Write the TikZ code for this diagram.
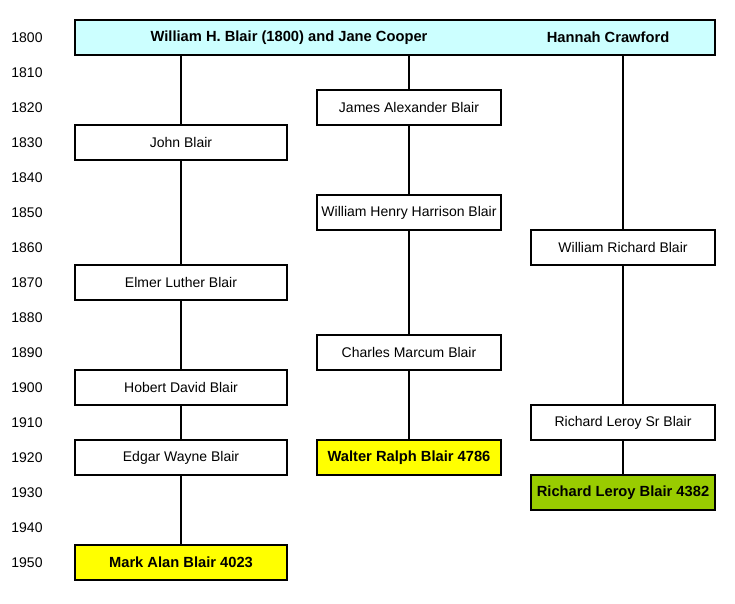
\documentclass[tikz,border=0pt]{standalone}
\usepackage{fontspec}
\setmainfont{Liberation Sans}
\definecolor{topcyan}{HTML}{CCFFFF}
\definecolor{tipyellow}{HTML}{FFFF00}
\definecolor{tipgreen}{HTML}{99CC00}

\begin{document}
\begin{tikzpicture}[x=1pt,y=-1pt,
    person/.style={draw, line width=1.6pt, fill=white, minimum height=35pt, inner sep=0pt, font=\fontsize{14}{16}\selectfont},
    wide/.style={person, minimum width=212pt},
    narrow/.style={person, minimum width=184pt},
    tip/.style={font=\fontsize{14.7}{16}\selectfont\bfseries},
    link/.style={line width=1.6pt}]
        \useasboundingbox (0,0) rectangle (735,604);

        % years
        \foreach \k in {0,...,15}
            \node[font=\fontsize{14}{16}\selectfont] (y\k) at (27,38+35*\k) {\the\numexpr1800+10*\k\relax};

        % parents
        \node[person, fill=topcyan, minimum width=640pt] (top) at (395,37.5) {};
        \node[tip] (couple) at (289,37.5) {William H. Blair (1800) and Jane Cooper};
        \node[tip] (hannah) at (608,37.5) {Hannah Crawford};

        % first line
        \node[wide] (john) at (181,142.5) {John Blair};
        \node[wide] (elmer) at (181,282.5) {Elmer Luther Blair};
        \node[wide] (hobert) at (181,387.5) {Hobert David Blair};
        \node[wide] (edgar) at (181,457.5) {Edgar Wayne Blair};
        \node[wide, fill=tipyellow, tip] (mark) at (181,562.5) {Mark Alan Blair 4023};

        % second line
        \node[narrow] (james) at (409,107.5) {James Alexander Blair};
        \node[narrow] (harrison) at (409,212.5) {William Henry Harrison Blair};
        \node[narrow] (charles) at (409,352.5) {Charles Marcum Blair};
        \node[narrow, fill=tipyellow, tip] (walter) at (409,457.5) {Walter Ralph Blair 4786};

        % third line
        \node[narrow] (richardw) at (623,247.5) {William Richard Blair};
        \node[narrow] (leroysr) at (623,422.5) {Richard Leroy Sr Blair};
        \node[narrow, fill=tipgreen, tip] (leroy) at (623,492.5) {Richard Leroy Blair 4382};

        % links
        \draw[link] (top.south -| john.north) -- (john);
        \draw[link] (john) -- (elmer);
        \draw[link] (elmer) -- (hobert);
        \draw[link] (hobert) -- (edgar);
        \draw[link] (edgar) -- (mark);
        \draw[link] (top.south -| james.north) -- (james);
        \draw[link] (james) -- (harrison);
        \draw[link] (harrison) -- (charles);
        \draw[link] (charles) -- (walter);
        \draw[link] (top.south -| richardw.north) -- (richardw);
        \draw[link] (richardw) -- (leroysr);
        \draw[link] (leroysr) -- (leroy);
    \end{tikzpicture}
\end{document}
